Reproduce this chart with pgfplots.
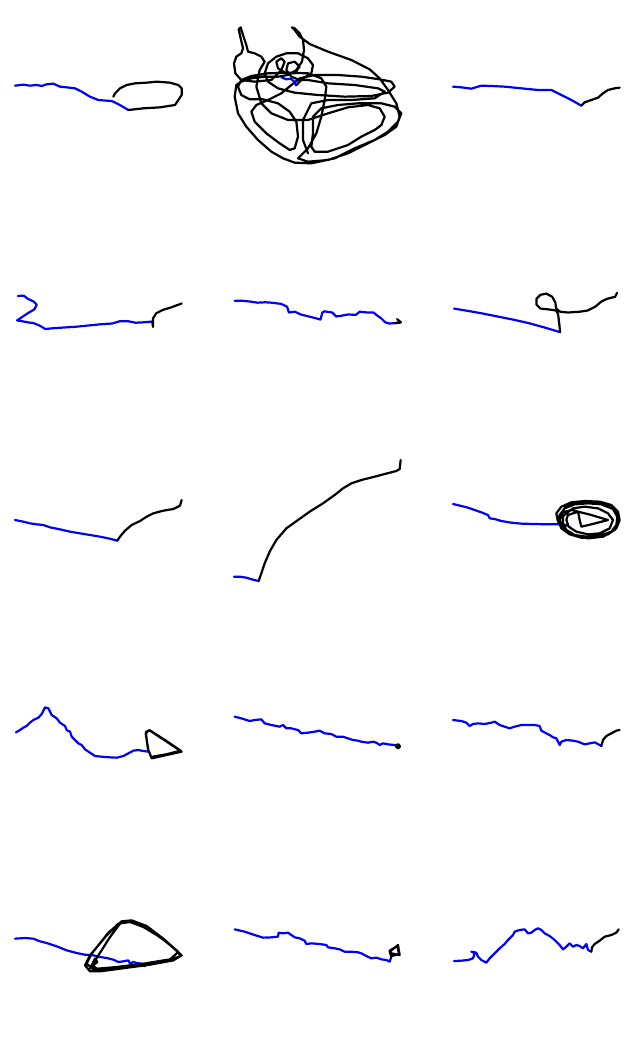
\documentclass[border=0pt]{standalone}
\usepackage{pgfplots}
\pgfplotsset{compat=1.18}
\usepgfplotslibrary{groupplots}
\begin{document}
\begin{tikzpicture}
\pgfplotsset{
  bl/.style={color=blue, line width=2.2pt, no markers, line join=round, line cap=round},
  bk/.style={color=black, line width=2.2pt, no markers, line join=round, line cap=round},
}
\begin{groupplot}[
  group style={group name=G, group size=3 by 5, horizontal sep=0pt, vertical sep=0pt},
  width=212pt, height=208.4pt, scale only axis, hide axis, y dir=reverse, clip=false,
]
% ---- row 1 ----
\nextgroupplot[xmin=-30,xmax=606,ymin=-210,ymax=415.2]
\addplot[bl] coordinates {(15,47)(40,44)(60,47)(80,45)(95,48)(110,43)(130,41)(150,50)(170,52)(195,55)(215,65)(240,80)(265,90)(290,92)(305,93)(320,100)(335,108)(355,120)};
\addplot[bk] coordinates {(355,120)(400,115)(450,112)(495,105)(505,90)(515,75)(515,55)(505,45)(480,38)(440,35)(410,38)(375,40)(350,45)(330,55)(315,70)(310,80)};
\nextgroupplot[xmin=-48,xmax=588,ymin=-60,ymax=565.2]
\addplot[bk] coordinates {(205,195)(225,175)(250,160)(255,135)(240,115)(210,100)(175,100)(145,110)(120,130)(110,160)(120,185)(150,205)(200,218)(270,225)(350,230)(430,228)(480,218)(500,200)(490,185)(455,178)(400,170)(330,165)(260,165)(215,175)(190,195)(160,220)(120,240)(85,255)(70,275)(80,305)(115,340)(155,370)(185,390)(200,385)(210,350)(205,305)(185,275)(150,250)(105,238)(65,238)(40,225)(30,200)(40,180)(70,168)(120,160)(180,158)(240,160)(280,175)(295,200)(290,240)(280,290)(265,340)(240,385)(210,415)(240,425)(300,420)(360,400)(420,370)(470,345)(505,320)(515,290)(505,250)(480,210)(455,175)(425,148)(370,120)(300,95)(245,72)(215,50)(200,30)(192,22)(200,25)(215,40)(225,60)(228,90)(222,125)(205,150)(180,165)(150,170)(110,170)(70,175)(40,185)(25,195)(20,230)(30,280)(55,320)(90,360)(130,395)(165,415)(200,428)(250,430)(320,415)(380,385)(440,360)(480,335)(510,305)(520,280)(500,260)(460,250)(390,250)(330,255)(280,265)(255,290)(255,340)(250,380)(260,395)(300,395)(360,375)(400,350)(440,330)(460,315)(470,290)(455,265)(420,255)(360,262)(300,280)(240,300)(180,300)(130,280)(100,250)(85,200)(95,150)(110,125)(100,110)(80,100)(60,95)(55,75)(45,45)(38,22)(32,28)(38,55)(45,85)(40,100)(25,110)(18,130)(22,160)(40,180)(80,185)(130,180)(160,150)(170,125)(160,115)(145,125)(150,145)(175,160)(200,160)(215,140)(200,125)(180,130)(175,150)(190,170)(215,180)(240,180)(300,190)(380,195)(450,205)(470,215)(440,235)(370,240)(300,240)(250,250)(225,300)(225,360)(240,400)};
\addplot[bl] coordinates {(160,172)(175,178)(188,176)(198,184)(204,196)(210,190)};
\nextgroupplot[xmin=-72,xmax=564,ymin=-225,ymax=400.2]
\addplot[bl] coordinates {(15,35)(40,37)(70,41)(100,32)(130,33)(170,35)(220,40)(270,45)(310,45)(340,60)(370,75)(400,92)};
\addplot[bk] coordinates {(400,92)(410,82)(430,75)(450,68)(465,55)(480,45)(500,40)(515,38)};
% ---- row 2 ----
\nextgroupplot[xmin=-25.45,xmax=514.1,ymin=-194.9,ymax=335.4]
\addplot[bl] coordinates {(20,28)(35,27)(45,35)(60,42)(68,50)(62,62)(45,72)(30,82)(18,90)(30,92)(45,95)(60,97)(75,103)(90,112)(110,110)(140,108)(170,106)(200,103)(230,100)(260,98)(280,92)(300,92)(320,96)(340,95)(362,93)};
\addplot[bk] coordinates {(362,93)(364,107)(364,85)(372,72)(390,63)(410,57)(437,47)};
\nextgroupplot[xmin=514.1,xmax=1053.6,ymin=-194.9,ymax=335.4]
\addplot[bl] coordinates {(572,40)(590,40)(610,42)(630,45)(650,44)(665,45)(690,48)(705,55)(710,70)(725,68)(740,75)(760,80)(780,85)(790,88)(795,70)(800,67)(820,70)(830,80)(845,78)(860,75)(880,76)(890,68)(910,70)(925,70)(935,78)(945,85)(955,95)(965,98)(980,97)(992,96)};
\addplot[bk] coordinates {(980,97)(995,95)(985,87)};
\nextgroupplot[xmin=1053.6,xmax=1593.2,ymin=-194.9,ymax=335.4]
\addplot[bl] coordinates {(1130,60)(1160,65)(1200,72)(1240,80)(1280,88)(1320,97)(1360,108)(1400,120)};
\addplot[bk] coordinates {(1400,120)(1398,100)(1395,75)(1390,65)(1370,62)(1350,60)(1340,50)(1340,35)(1350,25)(1365,22)(1380,30)(1388,45)(1390,60)(1400,68)(1420,70)(1450,68)(1470,65)(1490,55)(1505,42)(1520,35)(1540,30)(1545,20)};
% ---- row 3 ----
\nextgroupplot[xmin=-30,xmax=606,ymin=-219.6,ymax=405.6]
\addplot[bl] coordinates {(15,90)(40,95)(60,100)(80,103)(100,105)(120,112)(150,118)(180,125)(210,130)(240,135)(270,140)(295,145)(322,152)};
\addplot[bk] coordinates {(322,152)(330,140)(345,122)(365,105)(390,93)(410,80)(430,70)(460,62)(490,57)(510,47)(515,30)};
\nextgroupplot[xmin=-48,xmax=588,ymin=-114.6,ymax=510.6]
\addplot[bl] coordinates {(18,365)(35,365)(55,368)(75,374)(92,378)};
\addplot[bk] coordinates {(92,378)(100,355)(110,325)(125,290)(145,255)(175,220)(210,195)(245,170)(285,145)(320,120)(345,100)(370,85)(400,75)(440,65)(470,57)(505,48)(515,42)(518,15)};
\nextgroupplot[xmin=-72,xmax=564,ymin=-234.6,ymax=390.6]
\addplot[bl] coordinates {(15,27)(40,33)(60,38)(80,45)(100,52)(120,60)(125,70)(140,72)(160,78)(190,83)(220,86)(260,87)(300,88)(330,88)(355,92)};
\addplot[bk] coordinates {(355,92)(330,80)(325,55)(340,35)(370,22)(410,18)(455,20)(490,30)(510,50)(515,75)(505,100)(480,118)(440,128)(400,128)(365,118)(340,100)(330,75)(335,60)(350,40)(380,28)(420,25)(460,28)(495,42)(508,65)(505,90)(490,110)(455,122)(415,125)(380,120)(355,105)(345,85)(345,65)(355,55)(375,40)(410,35)(450,40)(480,55)(495,75)(485,100)(455,115)(420,118)(385,110)(362,95)(355,75)(360,60)(390,50)(430,60)(480,75)(430,88)(400,95)(395,75)(390,50)(370,45)(345,52)(335,75)(345,100)(375,120)(420,130)(465,125)(500,105)(512,78)(500,45)(470,28)(425,22)(380,25)(350,38)};
% ---- row 4 ----
\nextgroupplot[xmin=-30,xmax=606,ymin=-224.4,ymax=400.8]
\addplot[bl] coordinates {(18,97)(30,90)(40,83)(50,78)(60,68)(70,60)(85,53)(95,42)(105,22)(115,25)(125,45)(140,55)(150,68)(165,78)(170,90)(180,95)(185,110)(195,120)(205,130)(215,135)(225,148)(240,158)(255,168)(275,170)(300,172)(320,173)(340,168)(355,160)(370,152)(385,150)(400,153)(415,155)};
\addplot[bk] coordinates {(415,155)(410,120)(408,95)(420,92)(470,125)(515,155)(470,165)(425,175)(415,150)(407,100)(418,90)(468,122)(512,152)(468,163)(428,170)};
\nextgroupplot[xmin=-48,xmax=588,ymin=-254.4,ymax=370.8]
\addplot[bl] coordinates {(20,20)(40,25)(65,33)(80,30)(100,28)(110,40)(130,45)(155,50)(165,45)(175,55)(190,55)(210,60)(220,70)(240,68)(260,65)(275,62)(290,70)(310,72)(325,80)(345,80)(360,85)(375,90)(390,92)(400,95)(420,98)(435,95)(445,98)(455,105)(465,100)(480,103)(500,105)(510,110)};
\addplot[bk] coordinates {(510,110)(505,105)(512,103)(516,110)(510,115)(504,110)(510,106)};
\nextgroupplot[xmin=588,xmax=1224,ymin=-254.4,ymax=370.8]
\addplot[bl] coordinates {(675,30)(700,33)(715,38)(725,48)(735,42)(750,40)(770,42)(790,38)(800,35)(815,45)(830,50)(845,55)(860,50)(880,45)(900,45)(920,45)(935,48)(940,62)(955,70)(965,75)(975,82)(985,85)(995,105)(1000,95)(1015,90)(1035,92)(1050,95)(1070,103)(1085,100)(1100,97)(1115,105)(1120,108)};
\addplot[bk] coordinates {(1120,108)(1125,90)(1135,78)(1150,70)(1165,62)(1175,60)};
% ---- row 5 ----
\nextgroupplot[xmin=-30,xmax=606,ymin=-235.2,ymax=390]
\addplot[bl] coordinates {(15,80)(45,78)(70,80)(90,88)(110,93)(140,103)(170,115)(200,123)(225,128)(250,130)(270,135)(290,138)(310,143)(325,150)(340,148)(355,145)(360,155)(370,150)(380,153)(395,155)(405,163)};
\addplot[bk] coordinates {(240,170)(300,75)(330,35)(350,28)(380,35)(420,55)(470,90)(515,130)(490,145)(420,158)(330,170)(270,178)(240,178)(225,160)(240,130)(290,70)(325,35)(360,30)(400,45)(450,75)(500,115)(512,132)(470,148)(380,160)(300,172)(250,172)(230,155)(245,125)(295,62)(335,28)(365,25)(410,42)(460,80)(505,120)(480,142)(400,155)(320,165)(262,170)(245,160)(255,140)(262,150)(252,158)};
\nextgroupplot[xmin=-48,xmax=588,ymin=-259.2,ymax=366]
\addplot[bl] coordinates {(20,28)(50,35)(80,45)(105,53)(130,52)(150,50)(152,38)(165,40)(180,38)(190,45)(200,52)(215,55)(230,62)(235,72)(250,70)(275,72)(295,75)(300,82)(320,85)(335,88)(350,95)(370,95)(390,97)(400,100)(415,108)(430,115)(445,113)(460,118)(475,120)(485,125)(490,110)};
\addplot[bk] coordinates {(490,110)(485,95)(510,75)(515,105)(490,100)(485,92)(508,78)(513,103)(490,108)};
\nextgroupplot[xmin=588,xmax=1224,ymin=-259.2,ymax=366]
\addplot[bl] coordinates {(678,123)(700,122)(720,120)(735,115)(740,100)(730,95)(745,98)(750,110)(760,120)(775,128)(785,115)(800,100)(815,85)(830,72)(840,60)(855,45)(860,35)(875,30)(890,28)(900,40)(910,38)(920,30)(930,25)(940,30)(950,40)(965,48)(980,60)(995,75)(1005,88)(1015,80)(1025,70)(1035,80)(1045,75)(1055,78)(1065,85)(1075,72)(1080,90)(1090,95)};
\addplot[bk] coordinates {(1090,95)(1092,82)(1100,72)(1115,62)(1130,50)(1150,45)(1165,38)(1172,28)};
\end{groupplot}
\path (G c1r1.north west) rectangle (G c3r5.south east);
\end{tikzpicture}
\end{document}
